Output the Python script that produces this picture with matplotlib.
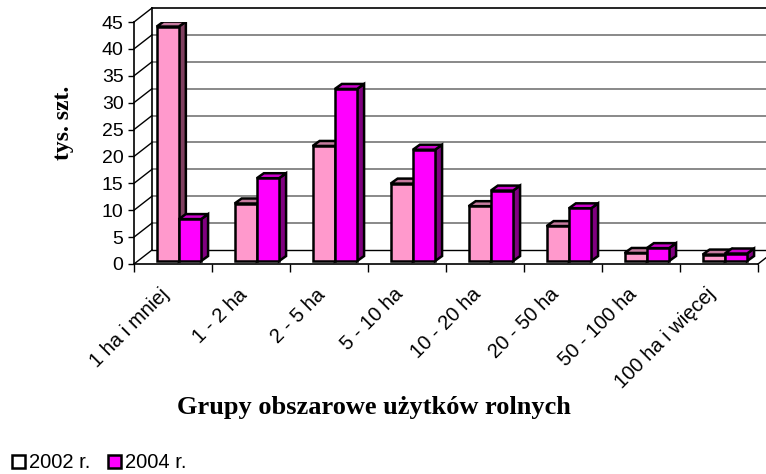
import matplotlib.pyplot as plt
from matplotlib.patches import Polygon, Patch

# Dane: liczba gospodarstw (tys. szt.) wg grup obszarowych
categories = ["1 ha i mniej", "1 - 2 ha", "2 - 5 ha", "5 - 10 ha",
              "10 - 20 ha", "20 - 50 ha", "50 - 100 ha", "100 ha i więcej"]
v2002 = [43.6, 10.7, 21.4, 14.4, 10.2, 6.5, 1.5, 1.2]
v2004 = [7.8, 15.4, 32.0, 20.7, 13.1, 9.8, 2.4, 1.4]
series_labels = ["2002 r.", "2004 r."]
yticks = list(range(0, 50, 5))

# kolory: przód, góra, bok
c2002 = ("#FF99CC", "#C77A9F", "#804060")
c2004 = ("#FF00FF", "#CC00CC", "#800080")

sans = "Liberation Sans"
serif = "Liberation Serif"

fig = plt.figure(figsize=(7.66, 4.74), dpi=100)
ax = fig.add_axes([134 / 766, 210 / 474, 624 / 766, 242 / 474])
n = len(categories)
ymax = yticks[-1]
ax.set_xlim(0, n)
ax.set_ylim(0, ymax)

# przesunięcie "głębi" pseudo-3D (w jednostkach danych)
DX = 18 / 78
DY = 14 / (242 / 45)

for s in ["top", "right"]:
    ax.spines[s].set_visible(False)
ax.spines["left"].set_linewidth(1.2)
ax.spines["bottom"].set_linewidth(1.2)

# ściana tylna + siatka
for v in yticks[1:-1]:
    ax.plot([DX, n + DX], [v + DY, v + DY], color="#808080", lw=1.3, clip_on=False, zorder=1)
ax.plot([DX, n + DX], [ymax + DY, ymax + DY], color="black", lw=1.2, clip_on=False, zorder=1)
ax.plot([DX, n + DX], [DY, DY], color="black", lw=1.0, clip_on=False, zorder=1)
ax.plot([DX, DX], [DY, ymax + DY], color="black", lw=1.2, clip_on=False, zorder=1)
# ściana boczna (ukośne linie)
for v in yticks:
    ax.plot([0, DX], [v, v + DY], color="black", lw=1.0, clip_on=False, zorder=1)
# prawa krawędź podłogi
ax.plot([n, n + DX], [0, DY], color="black", lw=1.0, clip_on=False, zorder=1)

# słupki
w = 0.285
base = 0.55
bdx, bdy = 7 / 78, 5 / (242 / 45)
xs = [i + 0.575 for i in range(n)]
b1 = ax.bar([x - w for x in xs], v2002, width=w, bottom=base, align="edge",
            color=c2002[0], edgecolor="black", linewidth=1.8)
b2 = ax.bar(xs, v2004, width=w, bottom=base, align="edge",
            color=c2004[0], edgecolor="black", linewidth=1.8)

z = 3
for i in range(n):
    for bar, cols in ((b1[i], c2002), (b2[i], c2004)):
        x0 = bar.get_x()
        x1 = x0 + bar.get_width()
        y0 = bar.get_y()
        y1 = y0 + bar.get_height()
        top = Polygon([(x0, y1), (x1, y1), (x1 + bdx, y1 + bdy), (x0 + bdx, y1 + bdy)],
                      closed=True, facecolor=cols[1], edgecolor="black", lw=1.8, zorder=z)
        side = Polygon([(x1, y0), (x1, y1), (x1 + bdx, y1 + bdy), (x1 + bdx, y0 + bdy)],
                       closed=True, facecolor=cols[2], edgecolor="black", lw=1.8, zorder=z)
        bar.set_zorder(z + 0.5)
        ax.add_patch(side)
        ax.add_patch(top)
        z += 1

# osie
ax.set_yticks(yticks)
ax.set_yticklabels([str(v) for v in yticks], fontfamily=sans, fontsize=14)
ax.tick_params(axis="y", length=4.5, width=1, pad=3)
ax.set_xticks(range(n + 1))
ax.set_xticklabels([])
ax.tick_params(axis="x", which="major", direction="out", length=6, width=1)
ax.set_xticks([i + 0.5 for i in range(n)], minor=True)
ax.set_xticklabels(categories, minor=True, rotation=45, ha="right", va="top",
                   fontfamily=sans, fontsize=14.5)
ax.tick_params(axis="x", which="minor", length=0, pad=15)

fig.text(0.4876, 0.127, "Grupy obszarowe użytków rolnych", ha="center", va="baseline",
         fontfamily=serif, fontweight="bold", fontsize=19)
fig.text(0.083, 0.74, "tys. szt.", ha="center", va="center", rotation=90,
         fontfamily=serif, fontweight="bold", fontsize=17)

handles = [Patch(facecolor="white", edgecolor="black", lw=1.8),
           Patch(facecolor=c2004[0], edgecolor="black", lw=1.8)]
fig.legend(handles, series_labels, loc="lower left", bbox_to_anchor=(0.0, -0.022),
           ncol=2, frameon=False, handlelength=0.62, handleheight=0.62,
           handletextpad=0.2, columnspacing=0.9, borderaxespad=0.2,
           prop={"family": sans, "size": 14.5})

fig.savefig("out.png", dpi=100)
